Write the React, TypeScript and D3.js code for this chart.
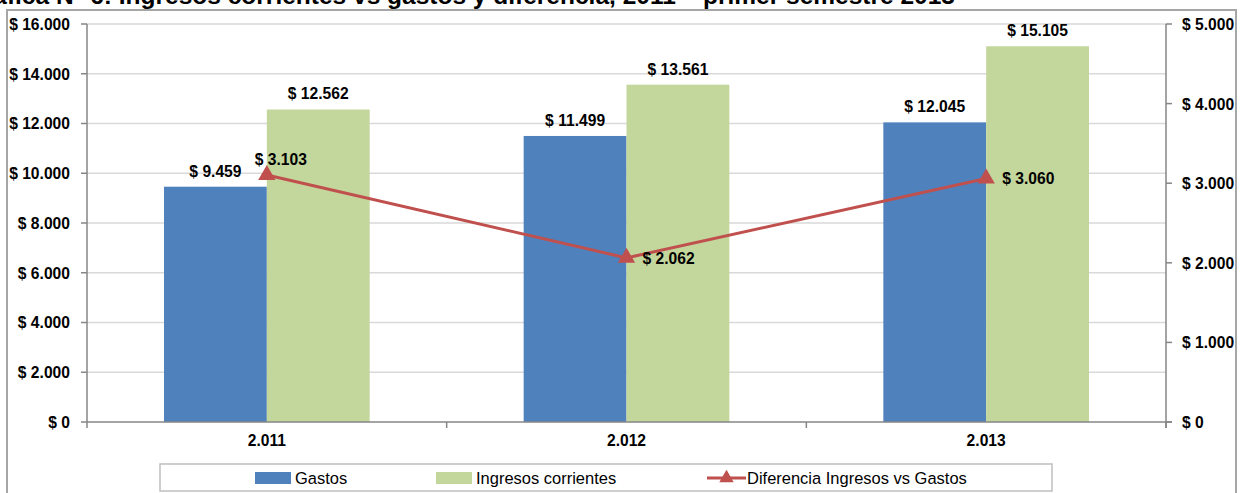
import { useEffect, useRef } from 'react';
import * as d3 from 'd3';

const years = ['2.011', '2.012', '2.013'];
const gastos = [9459, 11499, 12045];
const ingresos = [12562, 13561, 15105];
const diferencia = [3103, 2062, 3060];
const leftTicks = [0, 2000, 4000, 6000, 8000, 10000, 12000, 14000, 16000];
const rightTicks = [0, 1000, 2000, 3000, 4000, 5000];
const seriesNames = ['Gastos', 'Ingresos corrientes', 'Diferencia Ingresos vs Gastos'];

const BLUE = '#4F81BD';
const GREEN = '#C3D69B';
const RED = '#C0504D';
const FONT = '"Liberation Sans", Arial, sans-serif';

// formats 12562 as "$ 12.562"
const money = (v: number) => '$ ' + d3.format(',')(v).replace(/,/g, '.');

type Sel = d3.Selection<any, unknown, null, undefined>;

// condensed bold label, like the narrow font of the original
function label(
  parent: Sel,
  x: number,
  y: number,
  txt: string,
  anchor = 'middle',
  bold = true,
  size = 17,
  sx = 0.92
) {
  parent
    .append('text')
    .attr('transform', `translate(${x},${y}) scale(${sx},1)`)
    .attr('dy', '0.35em')
    .attr('text-anchor', anchor)
    .attr('font-family', FONT)
    .attr('font-weight', bold ? 'bold' : 'normal')
    .attr('font-size', `${size}px`)
    .attr('fill', '#000')
    .text(txt);
}

export default function App() {
  const svgRef = useRef<SVGSVGElement>(null);

  useEffect(() => {
    if (!svgRef.current) return;
    const root = d3.select(svgRef.current) as Sel;
    root.selectAll('*').remove();

    const width = 1244;
    const height = 493;
    const plot = { left: 87, right: 1166, top: 24, bottom: 422 };

    root.attr('width', width).attr('height', height);

    // Title (cut off at the top and left of the picture, as in the original)
    root
      .append('text')
      .attr('x', 955)
      .attr('y', 4)
      .attr('text-anchor', 'end')
      .attr('font-family', FONT)
      .attr('font-weight', 'bold')
      .attr('font-size', '24.5px')
      .attr('fill', '#000')
      .text('Gráfica N° 6: Ingresos corrientes vs gastos y diferencia, 2011 – primer semestre 2013');

    // Outer chart border
    root
      .append('rect')
      .attr('x', 7)
      .attr('y', 10)
      .attr('width', 1229)
      .attr('height', 500)
      .attr('fill', 'none')
      .attr('stroke', '#A6A6A6')
      .attr('stroke-width', 2);

    const x0 = d3.scaleBand<string>().domain(years).range([plot.left, plot.right]);
    const groupPad = 77;
    const x1 = d3
      .scaleBand<string>()
      .domain(['g', 'i'])
      .range([groupPad, x0.bandwidth() - groupPad]);
    const yL = d3.scaleLinear().domain([0, 16000]).range([plot.bottom, plot.top]);
    const yR = d3.scaleLinear().domain([0, 5000]).range([plot.bottom, plot.top]);

    // Gridlines
    leftTicks.forEach(t => {
      if (t === 0) return;
      root
        .append('line')
        .attr('x1', plot.left)
        .attr('x2', plot.right)
        .attr('y1', yL(t))
        .attr('y2', yL(t))
        .attr('stroke', '#D9D9D9')
        .attr('stroke-width', 1.5);
    });

    // Bars
    years.forEach((yr, i) => {
      const gx = x0(yr)!;
      [
        { k: 'g', v: gastos[i], c: BLUE },
        { k: 'i', v: ingresos[i], c: GREEN },
      ].forEach(b => {
        root
          .append('rect')
          .attr('x', gx + x1(b.k)!)
          .attr('y', yL(b.v))
          .attr('width', x1.bandwidth())
          .attr('height', yL(0) - yL(b.v))
          .attr('fill', b.c);
        label(root, gx + x1(b.k)! + x1.bandwidth() / 2, yL(b.v) - 16, money(b.v));
      });
    });

    // Axes lines
    const axisColor = '#868686';
    const axisLine = (xa: number, xb: number, ya: number, yb: number) =>
      root
        .append('line')
        .attr('x1', xa)
        .attr('x2', xb)
        .attr('y1', ya)
        .attr('y2', yb)
        .attr('stroke', axisColor)
        .attr('stroke-width', 1.5);

    axisLine(plot.left, plot.left, plot.top, plot.bottom);
    axisLine(plot.right, plot.right, plot.top, plot.bottom + 6);
    axisLine(plot.left, plot.right + 6, plot.bottom, plot.bottom);

    // Left ticks and labels
    leftTicks.forEach(t => {
      axisLine(plot.left - 6, plot.left, yL(t), yL(t));
      label(root, 70, yL(t), money(t), 'end');
    });

    // Right ticks and labels
    rightTicks.forEach(t => {
      axisLine(plot.right, plot.right + 6, yR(t), yR(t));
      label(root, 1182, yR(t), money(t), 'start');
    });

    // Category ticks and labels
    [...years.map(y => x0(y)!), plot.right].forEach(xv => {
      axisLine(xv, xv, plot.bottom, plot.bottom + 6);
    });
    years.forEach(yr => {
      label(root, x0(yr)! + x0.bandwidth() / 2, 440, yr);
    });

    // Difference line on secondary axis
    const line = d3
      .line<number>()
      .x((d, i) => x0(years[i])! + x0.bandwidth() / 2)
      .y(d => yR(d));
    root
      .append('path')
      .datum(diferencia)
      .attr('d', line)
      .attr('fill', 'none')
      .attr('stroke', RED)
      .attr('stroke-width', 3);

    const tri = d3.symbol().type(d3.symbolTriangle).size(130);
    diferencia.forEach((d, i) => {
      const cx = x0(years[i])! + x0.bandwidth() / 2;
      const cy = yR(d);
      root
        .append('path')
        .attr('d', tri() as string)
        .attr('transform', `translate(${cx},${cy})`)
        .attr('fill', RED);
      if (i === 0) label(root, cx + 14, cy - 16, money(d));
      else label(root, cx + 16, cy, money(d), 'start');
    });

    // Legend
    const legend = root.append('g') as Sel;
    legend
      .append('rect')
      .attr('x', 160)
      .attr('y', 464)
      .attr('width', 892)
      .attr('height', 27)
      .attr('fill', '#fff')
      .attr('stroke', '#BFBFBF')
      .attr('stroke-width', 1.5);
    const legendY = 478;
    const items = [
      { name: seriesNames[0], x: 255, kind: 'bar', color: BLUE },
      { name: seriesNames[1], x: 436, kind: 'bar', color: GREEN },
      { name: seriesNames[2], x: 707, kind: 'line', color: RED },
    ];
    items.forEach(it => {
      if (it.kind === 'bar') {
        legend
          .append('rect')
          .attr('x', it.x)
          .attr('y', legendY - 6)
          .attr('width', 36)
          .attr('height', 12)
          .attr('fill', it.color);
      } else {
        legend
          .append('line')
          .attr('x1', it.x)
          .attr('x2', it.x + 39)
          .attr('y1', legendY)
          .attr('y2', legendY)
          .attr('stroke', it.color)
          .attr('stroke-width', 3);
        legend
          .append('path')
          .attr('d', d3.symbol().type(d3.symbolTriangle).size(90)() as string)
          .attr('transform', `translate(${it.x + 19.5},${legendY})`)
          .attr('fill', it.color);
      }
      label(legend, it.x + 40, legendY, it.name, 'start', false, 17, 0.97);
    });
  }, []);

  return (
    <div style={{ position: 'absolute', left: 0, top: 0, background: '#fff' }}>
      <svg ref={svgRef} style={{ display: 'block' }}></svg>
    </div>
  );
}
